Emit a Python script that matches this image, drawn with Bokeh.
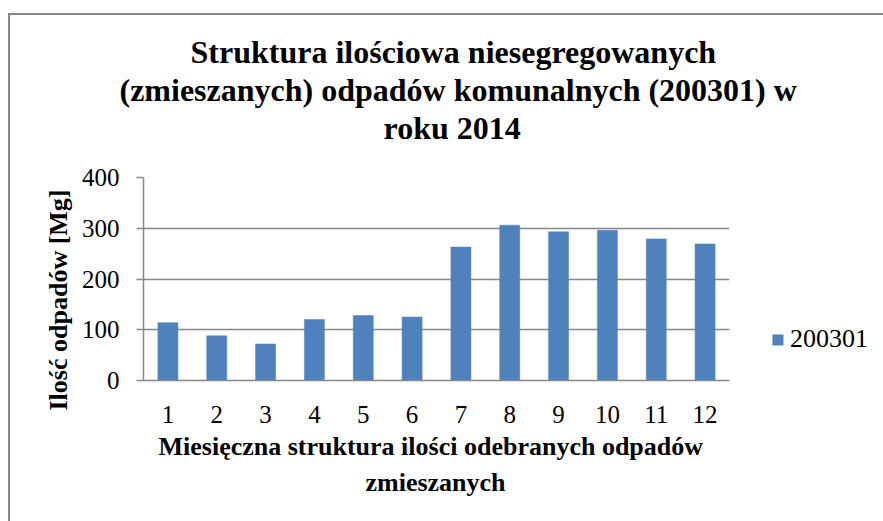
from bokeh.plotting import figure
from bokeh.models import Range1d, FixedTicker, Legend, LegendItem, Title
from bokeh.embed import file_html
from bokeh.resources import INLINE

# ---- data ----
months = [1, 2, 3, 4, 5, 6, 7, 8, 9, 10, 11, 12]
tick_labels = ["1", "2", "3", "4", "5", "6", "7", "8", "9", "10", "11", "12"]
waste_200301 = [114, 88, 72, 120, 128, 125, 263, 306, 293, 296, 279, 269]
series_name = "200301"
y_ticks = [0, 100, 200, 300, 400]

title_lines = [
    "Struktura ilościowa niesegregowanych",
    "(zmieszanych) odpadów komunalnych (200301) w",
    "roku 2014",
]
x_title_lines = ["Miesięczna struktura ilości odebranych odpadów", "zmieszanych"]
y_title = "Ilość odpadów [Mg]"

# ---- layout (page pixels) ----
ORIGIN_X, ORIGIN_Y = 10, 15          # canvas origin on the page (after css margin + border)
W, H = 867, 506
FL, FT, FR, FB = 143, 177, 729, 380  # frame edges on the page
FONT = "Liberation Serif"
BAR = "#4F81BD"
GRID = "#878787"

p = figure(
    frame_width=FR - FL, frame_height=FB - FT,
    x_range=Range1d(0.5, 12.5), y_range=Range1d(0, 400),
    output_backend="svg", toolbar_location=None, tools="",
    min_border_left=FL - ORIGIN_X, min_border_top=FT - ORIGIN_Y,
    min_border_right=W - (FR - ORIGIN_X), min_border_bottom=H - (FB - ORIGIN_Y),
)
p.styles = {
    "margin-left": "8px",
    "margin-top": "13px",
    "border-left": "2px solid #888888",
    "border-top": "2px solid #888888",
    "border-right": "2px solid #888888",
}
p.outline_line_color = None
p.background_fill_color = "white"
p.border_fill_color = "white"
p.title.visible = False

bars = p.vbar(x=months, top=waste_200301, width=0.41, fill_color=BAR, line_color=BAR, line_width=0.5)

# axes
p.xaxis.ticker = FixedTicker(ticks=months)
p.xaxis.major_label_overrides = {m: t for m, t in zip(months, tick_labels)}
p.xaxis.major_tick_line_color = None
p.xaxis.minor_tick_line_color = None
p.xaxis.axis_line_color = GRID
p.xaxis.axis_line_width = 1.5
p.xaxis.major_label_standoff = 19
p.xaxis.major_label_text_font = FONT
p.xaxis.major_label_text_font_size = "25px"
p.xaxis.major_label_text_color = "black"

p.yaxis.ticker = FixedTicker(ticks=y_ticks)
p.yaxis.minor_tick_line_color = None
p.yaxis.major_tick_in = 0
p.yaxis.major_tick_out = 7
p.yaxis.major_tick_line_color = GRID
p.yaxis.major_tick_line_width = 1.5
p.yaxis.axis_line_color = GRID
p.yaxis.axis_line_width = 1.5
p.yaxis.major_label_standoff = 17
p.yaxis.major_label_text_font = FONT
p.yaxis.major_label_text_font_size = "25px"
p.yaxis.major_label_text_color = "black"

p.xgrid.grid_line_color = None
p.ygrid.ticker = FixedTicker(ticks=y_ticks)
p.ygrid.grid_line_color = GRID
p.ygrid.grid_line_width = 1.5


def title(text, side_offset, standoff, size):
    return Title(text=text, align="left", offset=side_offset, standoff=standoff,
                 text_font=FONT, text_font_size=size, text_font_style="bold",
                 text_color="black")


# chart title: panels stack from the frame outward -> spacer, last line, ..., first line
p.add_layout(Title(text=" ", standoff=19, text_font_size="10px"), "above")
p.add_layout(title(title_lines[2], 383 - FL, 0, "32px"), "above")
p.add_layout(title(title_lines[1], 119 - FL, 0, "32px"), "above")
p.add_layout(title(title_lines[0], 190 - FL, 0, "32px"), "above")

# x-axis title (two lines, below the axis)
p.add_layout(title(x_title_lines[0], 158 - FL, 9, "26px"), "below")
p.add_layout(title(x_title_lines[1], 365 - FL, 0, "26px"), "below")

# y-axis title (rotated, left of the axis); text starts at y=410 on the page
p.add_layout(title(y_title, FB - 410, 12, "26px"), "left")

legend = Legend(items=[LegendItem(label=series_name, renderers=[bars])],
                location=(42, 26), padding=0, margin=0, spacing=0,
                border_line_color=None, background_fill_alpha=0,
                glyph_width=13, glyph_height=13, label_standoff=6,
                label_text_font=FONT, label_text_font_size="26px", label_text_color="black")
p.add_layout(legend, "right")

open("out.html", "w").write(file_html(p, INLINE))
